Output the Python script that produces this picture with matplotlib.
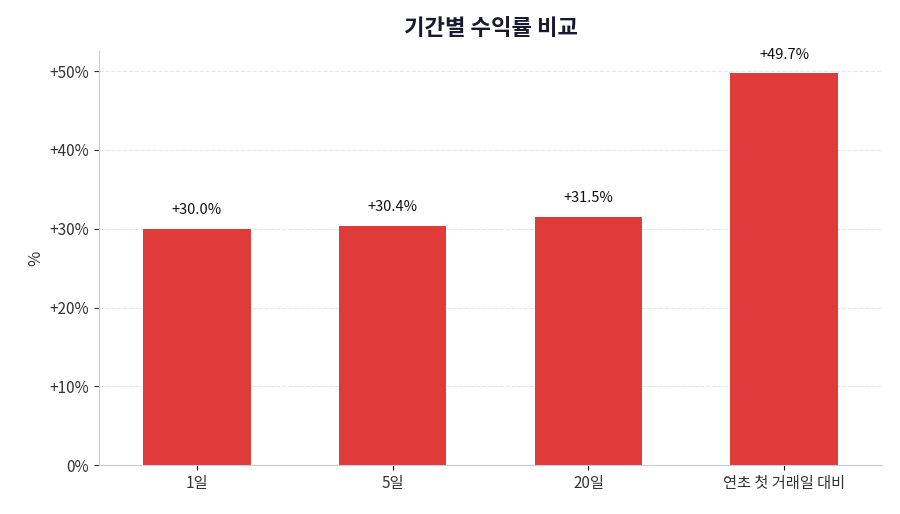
import matplotlib
matplotlib.use("Agg")
import matplotlib.pyplot as plt
from matplotlib.ticker import FuncFormatter

plt.rcParams['font.family'] = ['Noto Sans CJK KR', 'DejaVu Sans']

periods = ['1일', '5일', '20일', '연초 첫 거래일 대비']
returns = [30.0, 30.4, 31.5, 49.7]

fig, ax = plt.subplots(figsize=(9, 5.14), dpi=100)
x = range(len(periods))
ax.bar(x, returns, width=0.55, color='#e03b3b', zorder=2)
for i, v in zip(x, returns):
    ax.text(i, v + 1.5, f'+{v:.1f}%', ha='center', va='bottom', fontsize=10.5, color='#111111')

ax.set_xticks(list(x))
ax.set_xticklabels(periods, fontsize=11, color='#333333')
ax.set_ylim(0, 52.5)
ax.set_yticks(range(0, 51, 10))
ax.yaxis.set_major_formatter(FuncFormatter(lambda v, p: '0%' if v == 0 else f'+{v:.0f}%'))
ax.tick_params(axis='y', labelsize=11, colors='#333333')
ax.set_ylabel('%', fontsize=12, color='#333333')
ax.set_title('기간별 수익률 비교', fontsize=16, fontweight='bold', color='#1a1a2e', pad=12)
ax.grid(axis='y', linestyle='--', color='#e3e6ec', zorder=0)
for s in ['top', 'right']:
    ax.spines[s].set_visible(False)
ax.spines['left'].set_color('#c8ccd8')
ax.spines['bottom'].set_color('#c8ccd8')
ax.set_xlim(-0.5, 3.5)
fig.subplots_adjust(left=0.11, right=0.98, top=0.9, bottom=0.095)
fig.savefig('out.png')
